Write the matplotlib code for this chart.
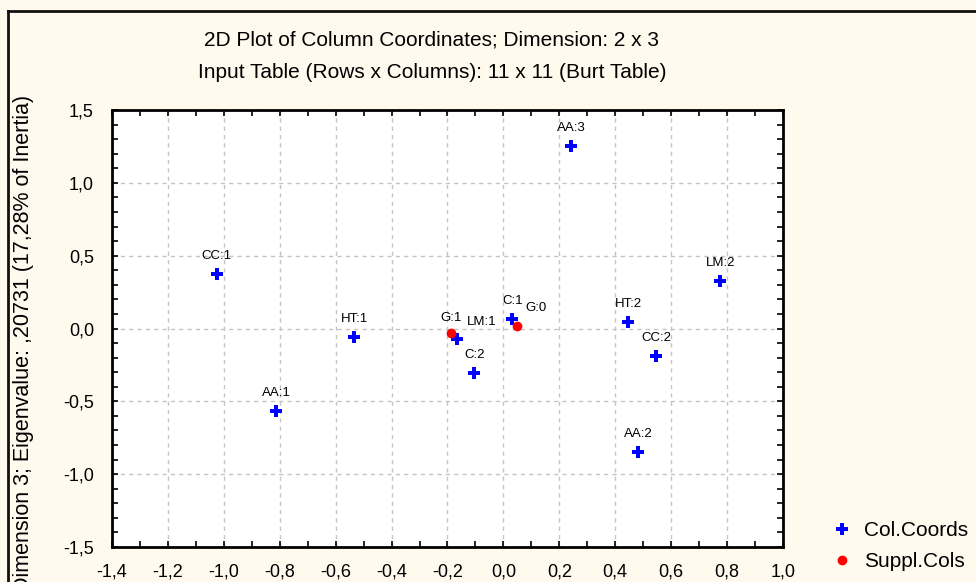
import matplotlib
matplotlib.use("Agg")
import matplotlib.pyplot as plt
from matplotlib.lines import Line2D
import numpy as np

# ---- data ----
col_labels = ["AA:1", "AA:2", "AA:3", "CC:1", "CC:2", "HT:1", "HT:2",
              "LM:1", "LM:2", "C:1", "C:2"]
col_x = [-0.812, 0.483, 0.243, -1.026, 0.547, -0.533, 0.447,
         -0.165, 0.776, 0.032, -0.104]
col_y = [-0.567, -0.848, 1.253, 0.374, -0.189, -0.058, 0.045,
         -0.072, 0.326, 0.065, -0.306]

sup_labels = ["G:0", "G:1"]
sup_x = [0.050, -0.186]
sup_y = [0.017, -0.031]

xtick_vals = [-1.4, -1.2, -1.0, -0.8, -0.6, -0.4, -0.2, 0.0, 0.2, 0.4, 0.6, 0.8, 1.0]
xtick_labels = ["-1,4", "-1,2", "-1,0", "-0,8", "-0,6", "-0,4", "-0,2",
                "0,0", "0,2", "0,4", "0,6", "0,8", "1,0"]
ytick_vals = [-1.5, -1.0, -0.5, 0.0, 0.5, 1.0, 1.5]
ytick_labels = ["-1,5", "-1,0", "-0,5", "0,0", "0,5", "1,0", "1,5"]

title1 = "2D Plot of Column Coordinates; Dimension: 2 x 3"
title2 = "Input Table (Rows x Columns): 11 x 11 (Burt Table)"
ylabel = "Dimension 3; Eigenvalue: ,20731 (17,28% of Inertia)"

# label offsets in pixels (default centered above)
label_offsets = {"LM:1": (24, 17), "G:0": (19, 18), "G:1": (0, 15)}
default_offset = (0, 18)

# ---- style ----
plt.rcParams['font.family'] = ['Liberation Sans', 'DejaVu Sans']
bg = '#FFF9EE'
W, H = 976, 582
fig = plt.figure(figsize=(W / 100, H / 100), dpi=100, facecolor=bg)

L, R, T, B = 112, 783, 110, 547
ax = fig.add_axes([L / W, 1 - B / H, (R - L) / W, (B - T) / H])
ax.set_facecolor('white')

ax.set_xlim(-1.4, 1.0)
ax.set_ylim(-1.5, 1.5)
ax.set_xticks(xtick_vals)
ax.set_xticklabels(xtick_labels)
ax.set_yticks(ytick_vals)
ax.set_yticklabels(ytick_labels)
ax.set_xticks(np.arange(-1.4, 1.01, 0.1), minor=True)
ax.set_yticks(np.arange(-1.5, 1.51, 0.1), minor=True)
ax.tick_params(which='both', direction='in', top=True, right=True,
               color='black', width=1.2)
ax.tick_params(which='major', length=4)
ax.tick_params(which='minor', length=4)
ax.tick_params(axis='x', which='major', labelsize=13, pad=12)
ax.tick_params(axis='y', which='major', labelsize=13, pad=13)
for s in ax.spines.values():
    s.set_linewidth(2)
    s.set_color('black')

ax.grid(True, which='major', linestyle=(0, (3, 3)), color='#C4C4C4', linewidth=1)
ax.set_axisbelow(True)

ax.plot(col_x, col_y, linestyle='none', marker='P', color='#0000FF',
        markersize=9, markeredgewidth=0, zorder=3, clip_on=False)
ax.plot(sup_x, sup_y, linestyle='none', marker='o', color='#FF0000',
        markersize=7, markeredgewidth=0, zorder=4, clip_on=False)

for lab, x, y in list(zip(col_labels, col_x, col_y)) + list(zip(sup_labels, sup_x, sup_y)):
    dx, dy = label_offsets.get(lab, default_offset)
    ax.annotate(lab, (x, y), xytext=(dx, dy), textcoords='offset pixels',
                ha='center', va='center', fontsize=9.5, color='black', zorder=5)

fig.text(432 / W, 1 - 40 / H, title1, ha='center', va='center', fontsize=15)
fig.text(432 / W, 1 - 73 / H, title2, ha='center', va='center', fontsize=15)
fig.text(24 / W, 1 - 95 / H, ylabel, ha='center', va='top', rotation=90, fontsize=15.5)

# outer frame
fig.add_artist(Line2D([8 / W, 1.0], [1 - 11 / H, 1 - 11 / H], transform=fig.transFigure,
                      color='#111111', linewidth=2))
fig.add_artist(Line2D([8 / W, 8 / W], [1 - 11 / H, 0], transform=fig.transFigure,
                      color='#111111', linewidth=2))

handles = [Line2D([], [], linestyle='none', marker='P', color='#0000FF', markersize=9,
                  markeredgewidth=0),
           Line2D([], [], linestyle='none', marker='o', color='#FF0000', markersize=7,
                  markeredgewidth=0)]
fig.legend(handles, ["Col.Coords", "Suppl.Cols"], loc='upper left',
           bbox_to_anchor=(819 / W, 1 - 511 / H), frameon=False, fontsize=15,
           handlelength=1.2, handletextpad=0.45, labelspacing=0.55, borderpad=0)

fig.savefig('out.png', dpi=100, facecolor=bg)
